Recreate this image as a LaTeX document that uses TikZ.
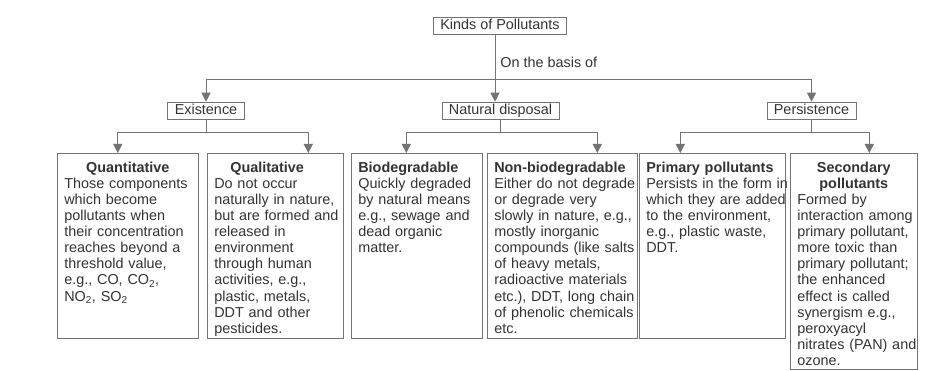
\documentclass[tikz,border=0pt]{standalone}
\usepackage{fontspec}
\setmainfont{Liberation Sans}
\usetikzlibrary{arrows.meta,positioning,calc}
\newcommand{\cardlines}[1]{\begin{tabular}[t]{@{}l@{}}#1\end{tabular}}

\begin{document}
\begin{tikzpicture}[x=1pt,y=-1pt,>={Triangle[width=9pt,length=9pt]},
 font=\fontsize{14.4}{16.1}\selectfont,
 wire/.style={draw=black!55,line width=0.8pt},
 feed/.style={wire,->},
 tag/.style={draw=black!55,line width=0.6pt,text=black!80,inner xsep=7pt,inner ysep=2pt,text height=10.5pt,text depth=2.5pt},
 card/.style={draw=black!55,line width=0.6pt,text=black!80,anchor=north west,inner xsep=7pt,inner ysep=8.5pt,text height=10.5pt,text depth=157.5pt}]
 \path[use as bounding box,fill=white] (0,0) rectangle (946,371);
 % top level
 \node[tag] (kinds) at (500,25.5) {Kinds of Pollutants};
 \node[tag] (existence) at (206,110.5) {Existence};
 \node[tag] (disposal) at (500.5,110.5) {Natural disposal};
 \node[tag] (persistence) at (811.5,110.5) {Persistence};
 \coordinate (basis) at (495,79);
 \draw[wire] (kinds.south -| basis) -- node[pos=0.62,right,inner xsep=5pt,text=black!80] {On the basis of} (basis);
 \draw[feed] (basis) -- (basis |- disposal.north);
 \draw[feed] (basis) -| (existence.north);
 \draw[feed] (basis) -| (persistence.north);
 % cards
 \node[card,text width=127pt] (quant) at (57,153)
 {\cardlines{\makebox[127pt]{\textbf{Quantitative}}\\Those components\\which become\\pollutants when\\their concentration\\reaches beyond a\\threshold value,\\e.g., CO, CO\textsubscript{2},\\NO\textsubscript{2}, SO\textsubscript{2}}};
 \node[card,text width=122pt] (qual) at (207,153)
 {\cardlines{\hspace*{16pt}\textbf{Qualitative}\\Do not occur\\naturally in nature,\\but are formed and\\released in\\environment\\through human\\activities, e.g.,\\plastic, metals,\\DDT and other\\pesticides.}};
 \node[card,text width=117pt] (bio) at (351,153)
 {\cardlines{\textbf{Biodegradable}\\Quickly degraded\\by natural means\\e.g., sewage and\\dead organic\\matter.}};
 \node[card,text width=136pt] (nonbio) at (487,153)
 {\cardlines{\textbf{Non-biodegradable}\\Either do not degrade\\or degrade very\\slowly in nature, e.g.,\\mostly inorganic\\compounds (like salts\\of heavy metals,\\radioactive materials\\etc.), DDT, long chain\\of phenolic chemicals\\etc.}};
 \node[card,text width=132pt] (primary) at (639,153)
 {\cardlines{\textbf{Primary pollutants}\\Persists in the form in\\which they are added\\to the environment,\\e.g., plastic waste,\\DDT.}};
 \node[card,text width=113pt,text depth=188.5pt] (secondary) at (790,153)
 {\cardlines{\makebox[113pt]{\textbf{Secondary}}\\\makebox[113pt]{\textbf{pollutants}}\\Formed by\\interaction among\\primary pollutant,\\more toxic than\\primary pollutant;\\the enhanced\\effect is called\\synergism e.g.,\\peroxyacyl\\nitrates (PAN) and\\ozone.}};
 % second level
 \draw[wire] (existence.south) -- ++(0,13) coordinate (ex);
 \draw[feed] (ex) -| ([xshift=-10pt]quant.north);
 \draw[feed] (ex) -| ([xshift=33pt]qual.north);
 \draw[wire] (disposal.south) -- ++(0,13) coordinate (dx);
 \draw[feed] (dx) -| ([xshift=-10.5pt]bio.north);
 \draw[feed] (dx) -| ([xshift=35pt]nonbio.north);
 \draw[wire] (persistence.south) -- ++(0,13) coordinate (px);
 \draw[feed] (px) -| ([xshift=-32pt]primary.north);
 \draw[feed] (px) -| ([xshift=15.5pt]secondary.north);
\end{tikzpicture}
\end{document}
